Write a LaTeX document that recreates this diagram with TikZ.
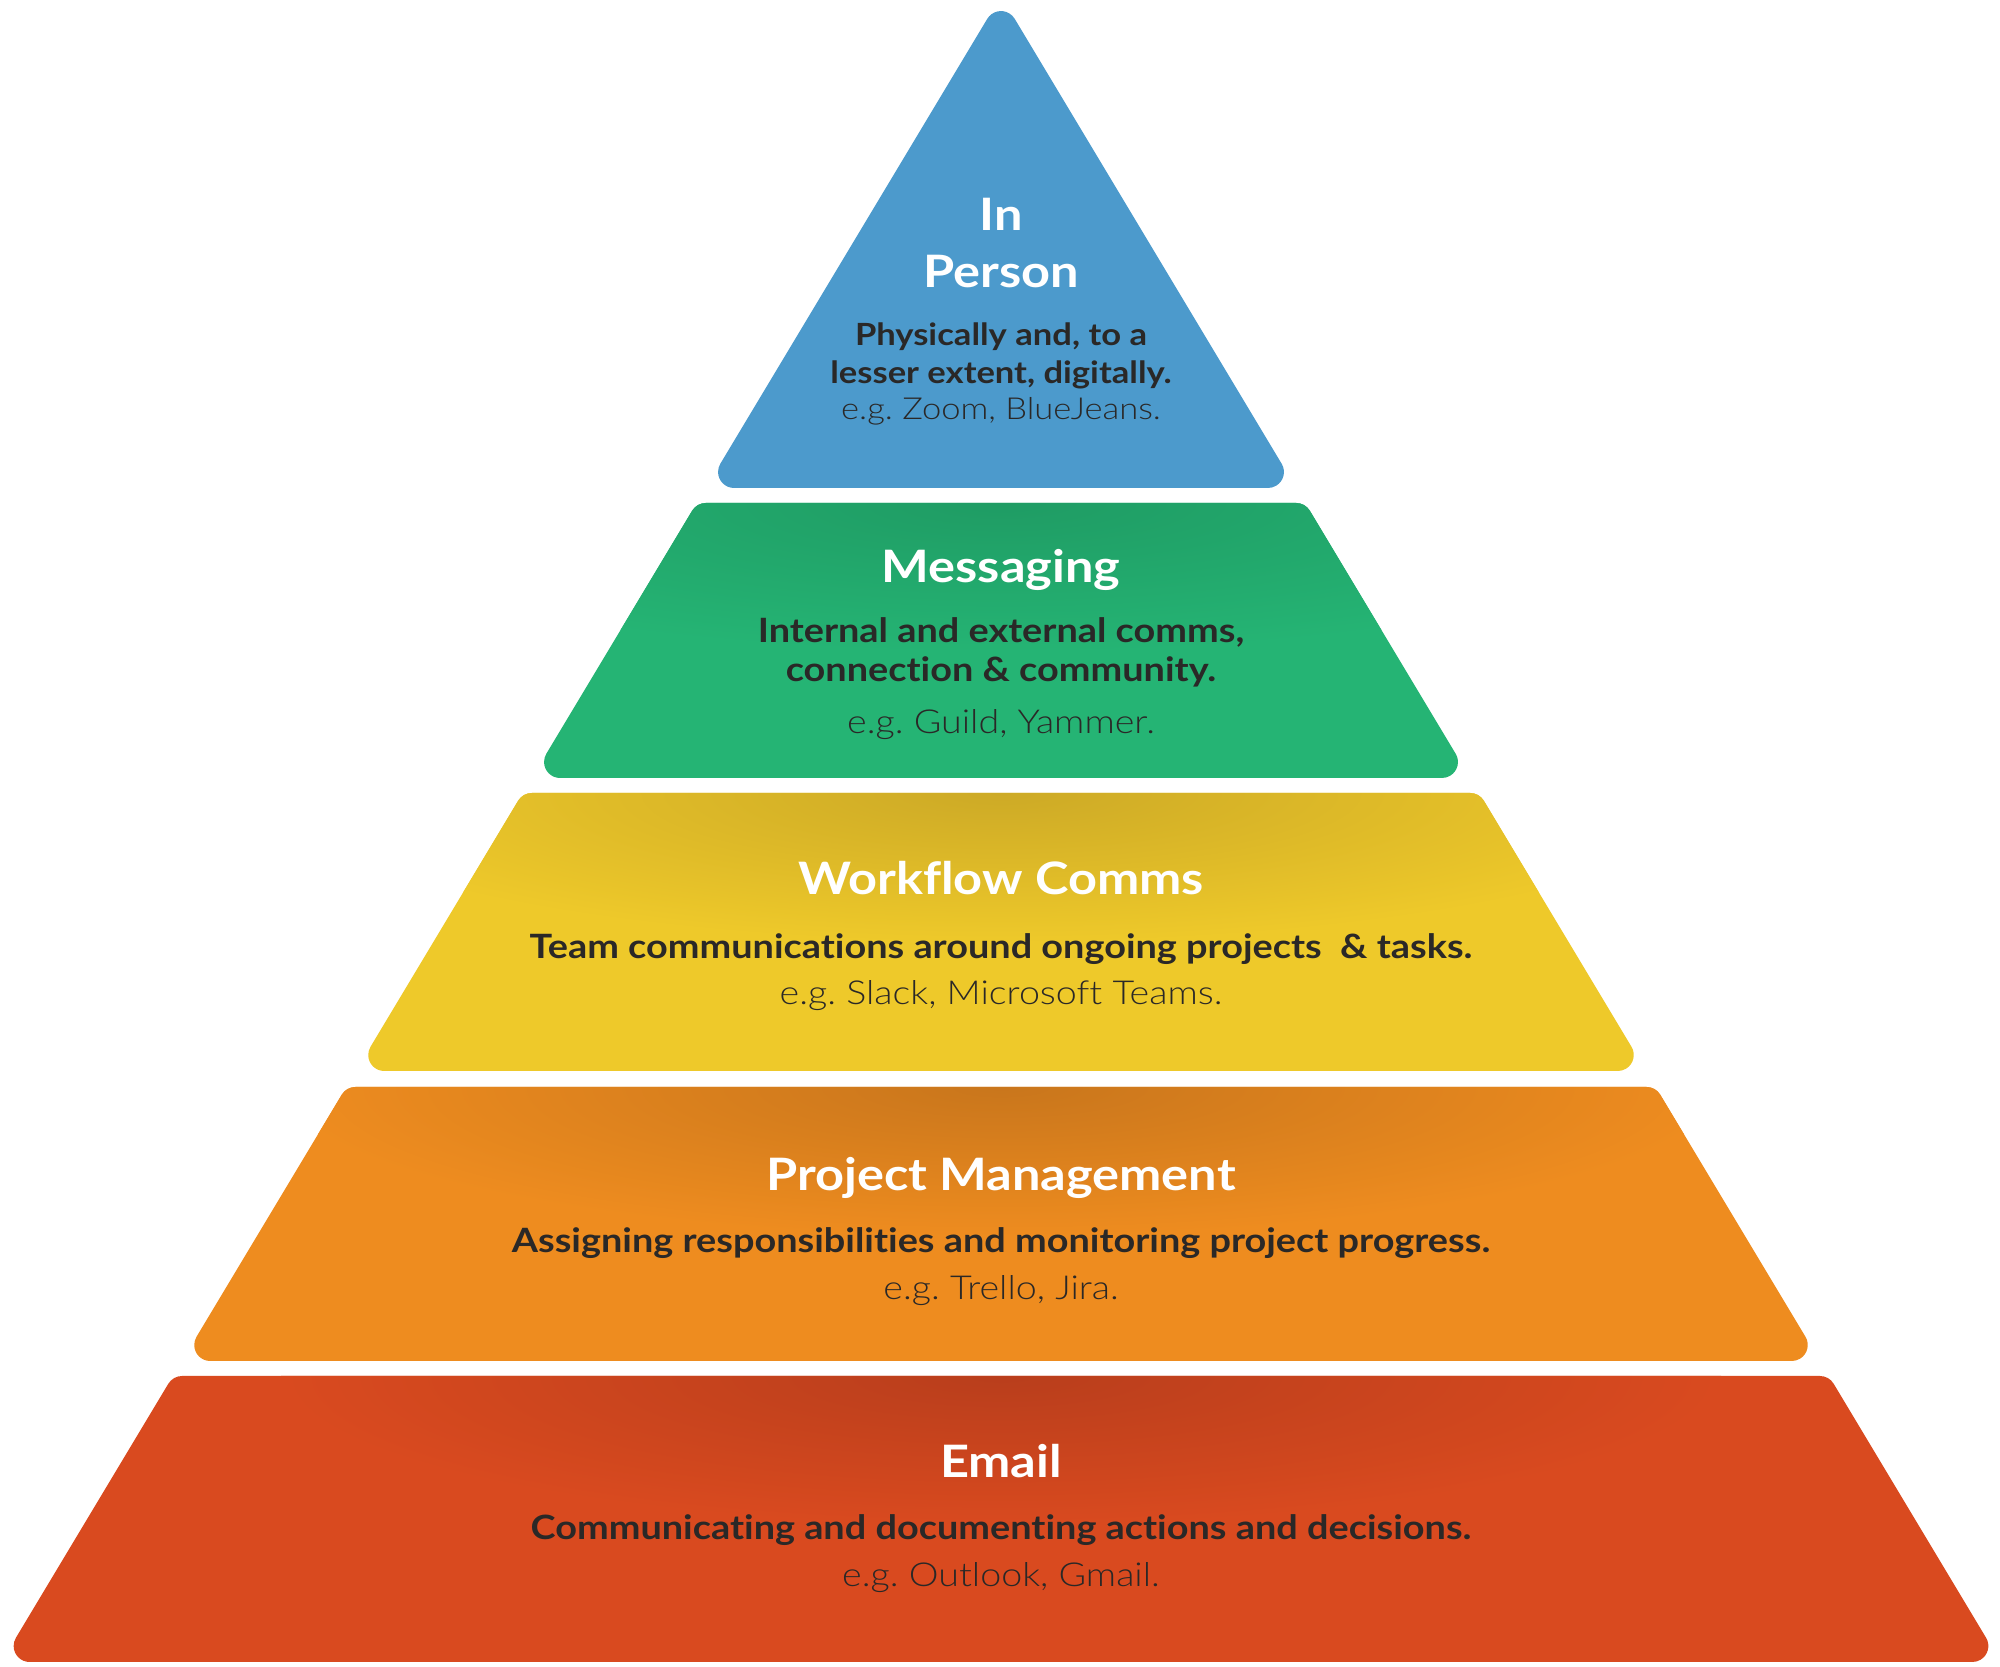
\documentclass[tikz,border=0pt]{standalone}
\usepackage{fontspec}
\setmainfont{Lato}[FakeStretch=1.13,Ligatures=NoCommon]
\newfontfamily\exfont{Lato Light}[FakeStretch=1.14,Ligatures=NoCommon]
\frenchspacing
\definecolor{cblue}{HTML}{4C9ACC}
\definecolor{cgreen}{HTML}{25B474}
\definecolor{cgreendk}{HTML}{1F9C64}
\definecolor{cyellow}{HTML}{EEC92A}
\definecolor{cyellowdk}{HTML}{CDAA26}
\definecolor{corange}{HTML}{EE8C1F}
\definecolor{corangedk}{HTML}{C9761C}
\definecolor{cred}{HTML}{D94A1F}
\definecolor{creddk}{HTML}{B93E1C}
\definecolor{txtdark}{HTML}{2A2827}
% layer geometry: #1 top y (from top of image), #2 bottom y
\newcommand\setlayer[2]{%
  \pgfmathsetmacro\Ty{1667-#1}\pgfmathsetmacro\By{1667-#2}%
  \pgfmathsetmacro\Th{0.6*(#1+4)}\pgfmathsetmacro\Bh{0.6*(#2+4)}%
  \pgfmathsetmacro\TLx{1001-\Th+9.06}\pgfmathsetmacro\TRx{1001+\Th-9.06}%
  \pgfmathsetmacro\BLx{1001-\Bh+28.26}\pgfmathsetmacro\BRx{1001+\Bh-28.26}%
  \pgfmathsetmacro\Tc{\Ty-16}\pgfmathsetmacro\Bc{\By+16}%
}
\newcommand\layerpath{([shift={(90:16pt)}]\TLx,\Tc) -- ([shift={(90:16pt)}]\TRx,\Tc)
  arc[start angle=90,end angle=30.96,radius=16pt]
  -- ([shift={(30.96:16pt)}]\BRx,\Bc) arc[start angle=30.96,end angle=-90,radius=16pt]
  -- ([shift={(-90:16pt)}]\BLx,\Bc) arc[start angle=-90,end angle=-210.96,radius=16pt]
  -- ([shift={(149.04:16pt)}]\TLx,\Tc) arc[start angle=149.04,end angle=90,radius=16pt] -- cycle}
\newcommand\drawlayer[4]{% top, bottom, colour, dark colour
  \setlayer{#1}{#2}%
  \fill[#3] \layerpath;
  \begin{scope}
    \clip \layerpath;
    \shade[inner color=#4, outer color=#3] (1001,\Ty) ellipse[x radius=720pt, y radius=150pt];
  \end{scope}
}
\begin{document}
\begin{tikzpicture}[x=1pt,y=1pt,
  ttl/.style={anchor=base, text=white, inner sep=0pt, font=\fontsize{44.7}{50}\selectfont\bfseries},
  dsc/.style={anchor=base, text=txtdark, inner sep=0pt, font=\fontsize{33.5}{38}\selectfont\bfseries},
  exm/.style={anchor=base, text=txtdark, inner sep=0pt, font=\exfont\fontsize{33}{38}\selectfont},
  small/.style={font=\fontsize{30.6}{36}\selectfont\bfseries},
  smallex/.style={font=\exfont\fontsize{30.3}{36}\selectfont}]
\fill[white] (0,0) rectangle (2000,1667);
\useasboundingbox (0,0) rectangle (2000,1667);
% top triangle
\fill[cblue] ([shift={(149.04:16pt)}]1001,1639.9) arc[start angle=149.04,end angle=30.96,radius=16pt]
  -- ([shift={(30.96:16pt)}]1267.94,1195) arc[start angle=30.96,end angle=-90,radius=16pt]
  -- ([shift={(-90:16pt)}]734.06,1195) arc[start angle=-90,end angle=-210.96,radius=16pt] -- cycle;
\drawlayer{503}{778}{cgreen}{cgreendk}
\drawlayer{793}{1071}{cyellow}{cyellowdk}
\drawlayer{1087}{1361}{corange}{corangedk}
\drawlayer{1376}{1662}{cred}{creddk}
% texts
\node[ttl] (t1a) at (1001,1436) {In};
\node[ttl] (t1b) at (1001,1379) {Person};
\node[dsc,small] (d1a) at (1001,1321) {Physically and, to a};
\node[dsc,small] (d1b) at (1001,1283) {lesser extent, digitally.};
\node[exm,smallex] (e1) at (1001,1247) {e.g. Zoom, BlueJeans.};
\node[ttl] (t2) at (1001,1084) {Messaging};
\node[dsc] (d2a) at (1001,1024) {Internal and external comms,};
\node[dsc] (d2b) at (1001,985) {connection \& community.};
\node[exm] (e2) at (1001,933) {e.g. Guild, Yammer.};
\node[ttl] (t3) at (1001,772) {Workflow Comms};
\node[dsc] (d3) at (1001,708) {Team communications around ongoing projects~ \& tasks.};
\node[exm] (e3) at (1001,662) {e.g. Slack, Microsoft Teams.};
\node[ttl] (t4) at (1001,476) {Project Management};
\node[dsc] (d4) at (1001,414) {Assigning responsibilities and monitoring project progress.};
\node[exm] (e4) at (1001,367) {e.g. Trello, Jira.};
\node[ttl] (t5) at (1001,189) {Email};
\node[dsc] (d5) at (1001,127) {Communicating and documenting actions and decisions.};
\node[exm] (e5) at (1001,80) {e.g. Outlook, Gmail.};
\end{tikzpicture}
\end{document}
